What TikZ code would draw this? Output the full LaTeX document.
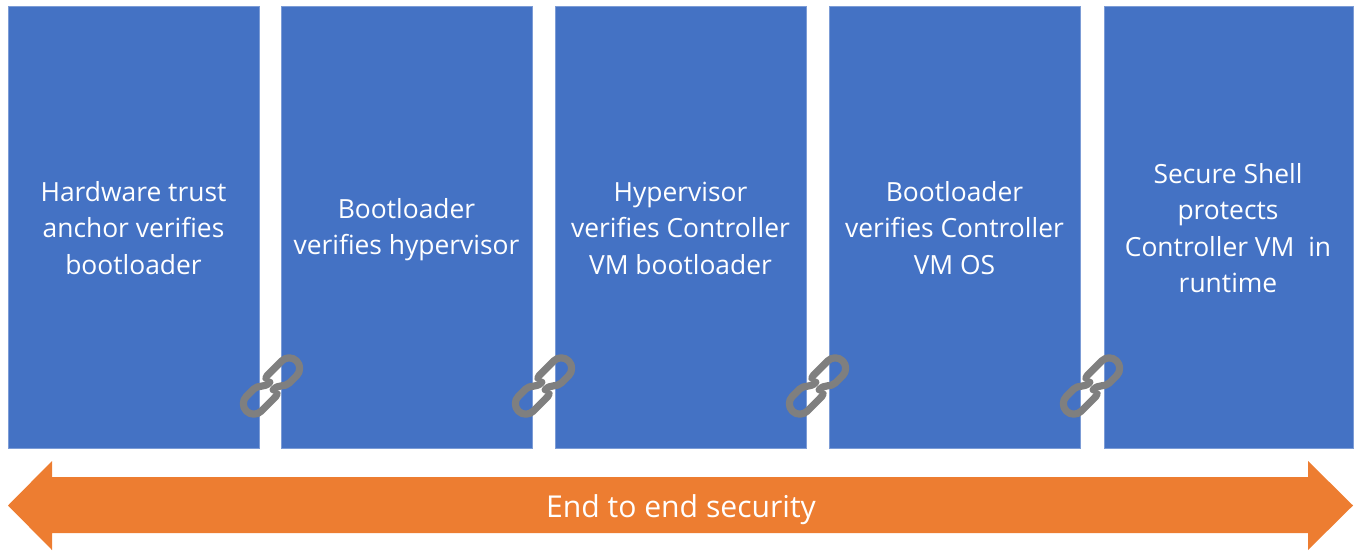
\documentclass[tikz,border=0pt]{standalone}
\usepackage{fontspec}
\setmainfont{Open Sans}
\definecolor{boxblue}{HTML}{4472C4}
\definecolor{arroworange}{HTML}{ED7D31}
\definecolor{linkgray}{HTML}{7F7F7F}
\tikzset{
  stagebox/.style={fill=boxblue,draw=boxblue!70!white,line width=0.5pt,minimum height=331.5pt,inner sep=0pt,anchor=north west},
  stagetext/.style={text=white,align=center,font=\fontsize{19.8pt}{27.4pt}\selectfont},
  chainlink/.pic={
    \draw[linkgray,line width=5.4pt,line cap=round,line join=round]
      (1.5,9.5) .. controls (3,10.5) and (5,10.5) .. (7,10.5) -- (25,10.5)
      arc[start angle=90,end angle=-90,radius=10.5] -- (15,-10.5)
      .. controls (8,-10.5) and (7,-3.5) .. (-1.5,-3.8);
    \draw[linkgray,line width=5.4pt,line cap=round,line join=round]
      (-1.5,-9.5) .. controls (-3,-10.5) and (-5,-10.5) .. (-7,-10.5) -- (-25,-10.5)
      arc[start angle=-90,end angle=-270,radius=10.5] -- (-15,10.5)
      .. controls (-8,10.5) and (-7,3.5) .. (1.5,3.8);
  }
}
\begin{document}
\begin{tikzpicture}[x=0.75pt,y=-0.75pt]
\useasboundingbox (0,0) rectangle (1355,550);
\node[stagebox,minimum width=188.25pt] (a) at (8,6) {};
\node[stagebox,minimum width=188.25pt] (b) at (281,6) {};
\node[stagebox,minimum width=188.25pt] (c) at (555,6) {};
\node[stagebox,minimum width=188.25pt] (d) at (829,6) {};
\node[stagebox,minimum width=187pt] (e) at (1104,6) {};
\node[stagetext] (ta) at (133.5,228) {Hardware trust\\anchor verifies\\bootloader};
\node[stagetext] (tb) at (406.5,229.5) {Bootloader\\verifies hypervisor};
\node[stagetext] (tc) at (680.5,228) {Hypervisor\\verifies Controller\\VM bootloader};
\node[stagetext] (td) at (954.5,228) {Bootloader\\verifies Controller\\VM OS};
\node[stagetext] (te) at (1228,228) {Secure Shell\\protects\\Controller VM\ \ in\\runtime};
\fill[arroworange] (8,505.5) -- (52,461) -- (52,477) -- (1308,477) -- (1308,461) -- (1353,505.5) -- (1308,550) -- (1308,533) -- (52,533) -- (52,550) -- cycle;
\node[text=white,font=\fontsize{22.6pt}{24pt}\selectfont] (arrowlabel) at (681,509.5) {End to end security};
\coordinate (l1) at (271.5,386);
\coordinate (l2) at (543.5,386);
\coordinate (l3) at (817.5,386);
\coordinate (l4) at (1091.5,386);
\foreach \n in {l1,l2,l3,l4}{
  \pic[x=0.75pt,y=0.75pt,rotate=45] at (\n) {chainlink};
}
\end{tikzpicture}
\end{document}
